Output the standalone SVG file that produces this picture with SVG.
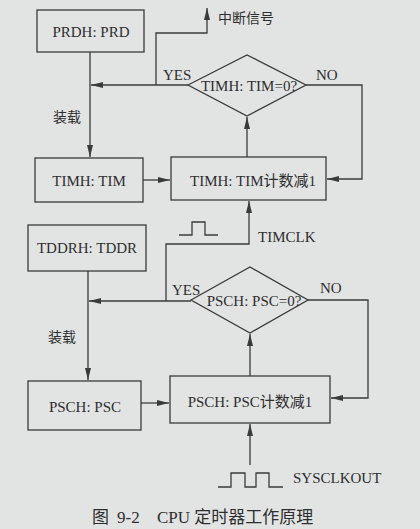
<svg xmlns="http://www.w3.org/2000/svg" width="420" height="529" viewBox="0 0 420 529">
<defs>
<style>
.box{fill:none;stroke:#3a3a3a;stroke-width:1.3}
.ln{fill:none;stroke:#3a3a3a;stroke-width:1.3}
.t{font-family:"Liberation Serif","Noto Sans CJK SC",serif;font-size:15px;fill:#2e2e2e}
.c{text-anchor:middle}
.cj{font-family:"Noto Sans CJK SC",sans-serif;font-size:14px;fill:#2e2e2e}
.cap{font-family:"Liberation Serif","Noto Sans CJK SC",serif;font-size:17px;fill:#2e2e2e}
</style>
<marker id="ar" viewBox="0 0 12 6" refX="12" refY="3" markerWidth="12" markerHeight="6" markerUnits="userSpaceOnUse" orient="auto">
<path d="M0,0 L12,3 L0,6 Z" fill="#3a3a3a"/>
</marker>
</defs>
<rect width="420" height="529" fill="#e2e4e4"/>
<g id="prd"><rect class="box" x="37" y="10" width="107" height="42"/><text class="t c" x="91" y="37">PRDH: PRD</text></g>
<g id="tim"><rect class="box" x="35" y="158" width="108" height="44"/><text class="t c" x="89" y="186">TIMH: TIM</text></g>
<g id="timdec"><rect class="box" x="171" y="157" width="155" height="43"/><text class="t c" x="253" y="186">TIMH: TIM计数减1</text></g>
<g id="timz"><polygon class="box" points="188,85 247,55 306,85 247,116"/><text class="t c" x="249" y="91">TIMH: TIM=0?</text></g>
<g id="tddr"><rect class="box" x="28" y="225" width="118" height="46"/><text class="t c" x="87" y="253">TDDRH: TDDR</text></g>
<g id="pscz"><polygon class="box" points="191,300 250,267 308,300 250,333"/><text class="t c" x="254" y="306">PSCH: PSC=0?</text></g>
<g id="psc"><rect class="box" x="28" y="381" width="113" height="49"/><text class="t c" x="85" y="412">PSCH: PSC</text></g>
<g id="pscdec"><rect class="box" x="170" y="376" width="160" height="47"/><text class="t c" x="250" y="407">PSCH: PSC计数减1</text></g>
<g id="connectors">
<path class="ln" d="M90,52 V157" marker-end="url(#ar)"/>
<path class="ln" d="M188,85 H91" marker-end="url(#ar)"/>
<path class="ln" d="M156,85 V33 H207 V8" marker-end="url(#ar)"/>
<path class="ln" d="M306,85 H362 V179 H327" marker-end="url(#ar)"/>
<path class="ln" d="M143,180 H170" marker-end="url(#ar)"/>
<path class="ln" d="M247,157 V117" marker-end="url(#ar)"/>
<path class="ln" d="M166,301 V244 H249 V201" marker-end="url(#ar)"/>
<path class="ln" d="M191,301 H89" marker-end="url(#ar)"/>
<path class="ln" d="M88,271 V380" marker-end="url(#ar)"/>
<path class="ln" d="M308,300 H368 V398 H331" marker-end="url(#ar)"/>
<path class="ln" d="M141,403 H169" marker-end="url(#ar)"/>
<path class="ln" d="M250,376 V334" marker-end="url(#ar)"/>
<path class="ln" d="M250,465 V424" marker-end="url(#ar)"/>
<path class="ln" d="M179,235 H192 V222 H205 V235 H218"/>
<path class="ln" d="M218,487 H231 V473 H245 V487 H256 V473 H269 V487 H283"/>
</g>
<text class="cj" x="218" y="23">中断信号</text>
<text class="t" x="163" y="80">YES</text>
<text class="t" x="316" y="80">NO</text>
<text class="cj" x="53" y="122">装载</text>
<text class="t" x="258" y="242">TIMCLK</text>
<text class="t" x="172" y="295">YES</text>
<text class="t" x="320" y="293">NO</text>
<text class="cj" x="48" y="342">装载</text>
<text class="t" x="293" y="483">SYSCLKOUT</text>
<text class="cap" y="523"><tspan x="92">图</tspan><tspan x="117">9-2</tspan><tspan x="157">CPU 定时器工作原理</tspan></text>
</svg>
